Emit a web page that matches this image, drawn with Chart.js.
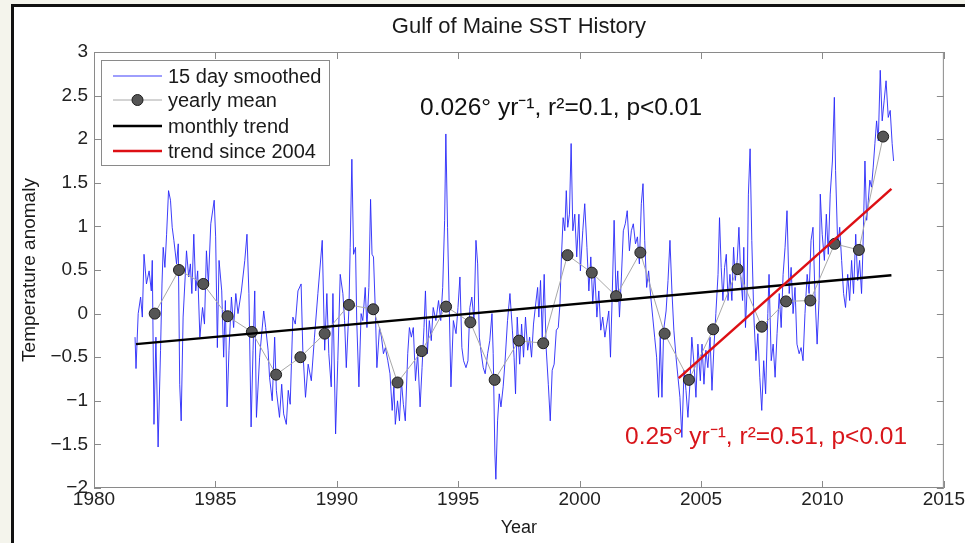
<!DOCTYPE html>
<html>
<head>
<meta charset="utf-8">
<script src="https://cdn.jsdelivr.net/npm/chart.js@4.4.1/dist/chart.umd.min.js"></script>
<style>
html, body { margin: 0; padding: 0; background: #f4f4ec; }
#wrap { width: 965px; height: 543px; position: relative; }
</style>
</head>
<body>
<div id="wrap"><canvas id="sst" width="965" height="543"></canvas></div>
<script>
// 15 day smoothed anomaly as [year, anomaly]
const smoothed = [
  [1981.69,-0.27],[1981.73,-0.63],[1981.82,0.00],[1981.92,0.19],[1981.99,-0.04],[1982.06,0.68],[1982.16,0.34],[1982.27,0.49],
  [1982.36,0.26],[1982.40,0.61],[1982.47,-1.27],[1982.55,-0.27],[1982.64,-1.53],[1982.74,-0.42],[1982.80,0.34],[1982.85,0.76],
  [1982.92,0.53],[1982.99,0.91],[1983.07,1.41],[1983.15,1.30],[1983.22,0.99],[1983.29,0.84],[1983.40,0.57],[1983.47,0.80],
  [1983.53,-0.81],[1983.59,-1.23],[1983.67,-0.04],[1983.81,0.72],[1983.90,0.42],[1983.97,0.57],[1984.03,0.23],[1984.11,0.91],
  [1984.19,0.26],[1984.27,0.49],[1984.36,-0.27],[1984.47,0.07],[1984.55,-0.12],[1984.63,0.72],[1984.71,0.34],[1984.81,1.03],
  [1984.95,1.30],[1985.01,0.88],[1985.08,-0.39],[1985.15,0.61],[1985.26,0.26],[1985.34,-0.50],[1985.41,0.15],[1985.48,-1.07],
  [1985.56,-0.42],[1985.66,0.19],[1985.75,-0.16],[1985.84,0.23],[1985.93,0.00],[1986.07,0.26],[1986.21,0.61],[1986.30,0.91],
  [1986.38,0.23],[1986.47,-1.30],[1986.55,-0.42],[1986.62,0.26],[1986.69,-1.19],[1986.82,-0.50],[1986.99,0.03],[1987.07,-0.16],
  [1987.17,-0.42],[1987.23,-0.73],[1987.34,-1.00],[1987.44,-0.27],[1987.51,-0.88],[1987.64,-1.19],[1987.73,-0.81],[1987.81,-1.15],
  [1987.92,-1.27],[1988.00,-0.88],[1988.08,-1.04],[1988.19,-0.04],[1988.29,-0.12],[1988.40,0.26],[1988.53,0.34],[1988.60,-0.42],
  [1988.71,-0.96],[1988.82,-0.58],[1988.95,-0.77],[1989.08,-0.27],[1989.22,0.23],[1989.40,0.84],
  [1989.50,-0.42],[1989.59,0.23],[1989.67,-0.46],[1989.77,-0.84],[1989.84,0.23],[1989.95,-1.38],[1990.04,-0.54],[1990.14,0.45],
  [1990.25,0.23],[1990.32,-0.08],[1990.39,-0.62],[1990.50,0.07],[1990.55,0.76],[1990.62,1.77],[1990.69,0.68],[1990.77,0.76],
  [1990.82,-0.08],[1990.91,-0.84],[1991.00,0.00],[1991.07,-0.08],[1991.17,0.30],[1991.24,-0.16],[1991.32,0.30],[1991.39,1.31],
  [1991.45,0.68],[1991.51,0.65],[1991.59,0.00],[1991.65,-0.62],[1991.76,-0.16],[1991.84,-0.27],[1991.92,-0.46],[1992.00,-0.39],
  [1992.10,-0.54],[1992.19,-0.69],[1992.28,-1.11],[1992.35,-0.84],[1992.41,-1.27],[1992.50,-1.00],[1992.58,-1.23],[1992.66,-0.77],
  [1992.74,-1.04],[1992.82,-1.23],[1992.92,-0.46],[1992.99,-0.16],[1993.07,-0.27],[1993.15,-0.16],[1993.24,-0.77],[1993.33,-0.46],
  [1993.43,-1.07],[1993.51,-0.62],[1993.59,-0.16],[1993.65,0.26],[1993.73,-0.46],[1993.81,-0.08],[1993.89,-0.31],[1993.97,0.07],
  [1994.08,-0.08],[1994.19,0.15],[1994.28,-0.08],[1994.36,0.30],[1994.44,1.07],[1994.49,2.06],[1994.56,0.99],[1994.63,0.07],
  [1994.70,-0.84],[1994.80,-0.08],[1994.91,-0.23],[1994.99,0.07],[1995.07,0.42],[1995.15,-0.39],[1995.22,-0.54],[1995.32,-0.62],
  [1995.40,-0.54],[1995.48,0.07],[1995.56,0.19],[1995.65,-0.08],[1995.73,0.84],[1995.80,0.57],[1995.87,-0.27],[1995.95,-0.46],
  [1996.03,-0.62],[1996.11,-0.69],[1996.21,-0.46],[1996.30,-0.31],[1996.39,0.00],[1996.44,-0.46],[1996.51,-1.61],[1996.55,-1.90],
  [1996.62,-1.23],[1996.69,-0.92],[1996.76,-1.07],[1996.85,-0.84],[1996.93,-0.54],[1997.03,-0.08],[1997.13,0.23],
  [1997.23,-0.19],[1997.30,-0.50],[1997.36,-0.92],[1997.43,-0.04],[1997.53,-0.58],[1997.61,-0.12],[1997.69,-0.50],[1997.77,-0.04],
  [1997.86,-0.42],[1997.94,-0.27],[1998.02,-0.50],[1998.10,-0.12],[1998.19,0.11],[1998.27,0.30],[1998.32,-0.04],[1998.39,0.38],
  [1998.46,-0.27],[1998.54,0.45],[1998.62,-0.39],[1998.71,-0.81],[1998.79,-1.23],[1998.87,-0.65],[1998.95,-0.58],[1999.04,-0.19],
  [1999.12,-0.16],[1999.19,0.11],[1999.25,0.65],[1999.32,1.10],[1999.39,0.95],[1999.45,1.41],[1999.51,0.99],[1999.58,1.14],
  [1999.65,1.95],[1999.72,0.95],[1999.80,1.14],[1999.88,0.65],[1999.97,1.14],[2000.03,0.49],[2000.13,0.95],[2000.21,1.26],
  [2000.30,0.76],[2000.38,0.26],[2000.46,0.65],[2000.54,0.11],[2000.62,0.49],[2000.71,-0.04],[2000.79,0.26],[2000.87,-0.19],
  [2000.95,-0.04],[2001.04,-0.27],[2001.12,-0.12],[2001.20,0.03],[2001.27,-0.50],[2001.34,0.19],[2001.42,1.07],[2001.50,0.19],
  [2001.57,0.49],[2001.64,-0.04],[2001.72,0.42],[2001.80,0.95],[2001.88,1.03],[2001.96,1.18],[2002.05,0.72],[2002.13,0.95],
  [2002.21,1.03],[2002.30,0.80],[2002.38,0.88],[2002.46,0.57],[2002.54,1.26],[2002.61,1.49],[2002.68,0.84],[2002.76,0.30],
  [2002.84,0.49],[2002.93,0.19],[2003.01,-0.04],[2003.09,-0.27],[2003.17,-0.50],[2003.25,-0.96],[2003.32,-0.27],[2003.39,-0.96],
  [2003.46,-0.19],[2003.56,0.03],[2003.64,0.38],[2003.72,0.84],[2003.80,0.26],[2003.88,-0.19],[2003.97,-0.50],[2004.05,-0.73],
  [2004.13,-0.96],[2004.21,-1.42],[2004.30,-0.65],[2004.38,-0.88],[2004.46,-1.19],[2004.54,-0.81],[2004.62,-0.27],[2004.71,-0.58],
  [2004.79,-0.96],[2004.87,-0.35],
  [2004.97,-0.77],[2005.04,-0.35],[2005.12,-0.81],[2005.20,-0.42],[2005.28,-0.62],[2005.37,-0.27],[2005.45,-0.88],[2005.53,-0.39],
  [2005.61,0.00],[2005.70,0.45],[2005.76,1.10],[2005.83,0.53],[2005.90,0.15],[2005.97,0.53],[2006.04,0.68],[2006.11,0.15],
  [2006.19,0.45],[2006.27,0.15],[2006.34,0.76],[2006.41,0.38],[2006.49,0.61],[2006.56,0.99],[2006.63,0.45],[2006.71,0.15],
  [2006.76,0.76],[2006.83,-0.16],[2006.90,0.30],[2006.95,1.37],[2007.02,1.89],[2007.09,0.84],[2007.17,0.00],[2007.26,-0.54],
  [2007.34,-0.23],[2007.42,-0.73],[2007.50,-1.11],[2007.58,-0.54],[2007.66,-0.92],[2007.75,0.00],[2007.80,0.45],[2007.89,-0.54],
  [2007.97,-0.35],[2008.05,-0.73],[2008.13,-0.23],[2008.22,0.23],[2008.30,-0.16],[2008.38,0.45],[2008.46,0.76],[2008.54,1.18],
  [2008.63,0.23],[2008.71,0.53],[2008.79,0.00],[2008.87,0.30],[2008.95,-0.35],[2009.04,-0.46],[2009.12,-0.39],[2009.20,-0.54],
  [2009.28,0.00],[2009.37,0.45],[2009.45,0.23],[2009.53,0.84],[2009.61,0.99],[2009.69,0.23],[2009.78,-0.35],[2009.86,0.15],
  [2009.91,1.37],[2009.99,0.91],[2010.08,0.61],[2010.16,1.14],[2010.24,0.68],[2010.32,1.37],[2010.41,1.75],[2010.49,2.48],
  [2010.54,1.64],[2010.63,0.76],[2010.71,0.99],[2010.79,0.61],[2010.87,0.23],[2010.95,0.07],[2011.04,0.45],[2011.12,0.15],
  [2011.20,0.61],[2011.28,0.23],[2011.37,0.91],[2011.45,0.38],[2011.53,0.61],[2011.61,0.23],[2011.67,0.76],[2011.75,1.75],
  [2011.82,1.07],[2011.89,1.30],[2011.95,1.53],[2012.02,1.45],[2012.09,1.68],[2012.16,1.95],[2012.23,2.21],[2012.30,1.98],
  [2012.38,2.79],[2012.46,2.21],[2012.54,2.44],[2012.62,2.67],[2012.71,2.25],[2012.79,2.33],[2012.87,1.95],[2012.93,1.75]
];

// yearly means (plotted mid-year)
const meanYears = [1982.5, 1983.5, 1984.5, 1985.5, 1986.5, 1987.5, 1988.5, 1989.5, 1990.5, 1991.5,
  1992.5, 1993.5, 1994.5, 1995.5, 1996.5, 1997.5, 1998.5, 1999.5, 2000.5, 2001.5,
  2002.5, 2003.5, 2004.5, 2005.5, 2006.5, 2007.5, 2008.5, 2009.5, 2010.5, 2011.5, 2012.5];
const meanValues = [0.00, 0.50, 0.34, -0.03, -0.21, -0.70, -0.50, -0.23, 0.10, 0.05,
  -0.79, -0.43, 0.08, -0.10, -0.76, -0.31, -0.34, 0.67, 0.47, 0.20,
  0.70, -0.23, -0.76, -0.18, 0.51, -0.15, 0.14, 0.15, 0.80, 0.73, 2.03];

// trend line end points
const monthlyTrend = [[1981.73, -0.35], [2012.84, 0.44]];
const trendSince2004 = [[2004.08, -0.74], [2012.84, 1.43]];

// axis ticks
const xTicks = [1980, 1985, 1990, 1995, 2000, 2005, 2010, 2015];
const yTicks = [-2, -1.5, -1, -0.5, 0, 0.5, 1, 1.5, 2, 2.5, 3];

const labels = ['15 day smoothed', 'yearly mean', 'monthly trend', 'trend since 2004'];
const fitText = '0.026\u00b0 yr\u207b\u00b9, r\u00b2=0.1, p<0.01';
const fit2004Text = '0.25\u00b0 yr\u207b\u00b9, r\u00b2=0.51, p<0.01';

const FONT = '"Liberation Sans", Arial, Helvetica, sans-serif';
const toXY = p => ({ x: p[0], y: p[1] });
const minus = v => (v < 0 ? '\u2212' : '') + Math.abs(v);

// page frame, title and axis labels
const framePlugin = {
  id: 'frame',
  beforeDraw(chart) {
    const c = chart.ctx;
    c.save();
    c.fillStyle = '#f4f4ec';
    c.fillRect(0, 0, 965, 543);
    c.fillStyle = '#ffffff';
    c.fillRect(12, 5, 953, 538);
    c.fillStyle = '#111';
    c.fillRect(11, 4, 954, 3);
    c.fillRect(11, 4, 3, 539);
    c.restore();
  },
  afterDraw(chart) {
    const c = chart.ctx, a = chart.chartArea;
    const cx = (a.left + a.right) / 2;
    c.save();
    c.fillStyle = '#1a1a1a';
    c.textAlign = 'center';
    c.textBaseline = 'middle';
    c.font = '22px ' + FONT;
    c.fillText('Gulf of Maine SST History', cx, 27);
    c.font = '18px ' + FONT;
    c.fillText('Year', cx, 528);
    c.font = '19px ' + FONT;
    c.translate(30, (a.top + a.bottom) / 2);
    c.rotate(-Math.PI / 2);
    c.fillText('Temperature anomaly', 0, 0);
    c.restore();
  }
};

// matlab style box with inward ticks on all four sides
const boxPlugin = {
  id: 'box',
  beforeDatasetsDraw(chart) {
    const c = chart.ctx, a = chart.chartArea;
    const xs = chart.scales.x, ys = chart.scales.y;
    const t = 7;
    c.save();
    c.strokeStyle = '#8a8a8a';
    c.lineWidth = 1;
    c.strokeRect(a.left + 0.5, a.top + 0.5, a.right - a.left - 1, a.bottom - a.top - 1);
    c.beginPath();
    xTicks.forEach(v => {
      const px = Math.round(xs.getPixelForValue(v)) + 0.5;
      c.moveTo(px, a.bottom); c.lineTo(px, a.bottom - t);
      c.moveTo(px, a.top); c.lineTo(px, a.top + t);
    });
    yTicks.forEach(v => {
      const py = Math.round(ys.getPixelForValue(v)) + 0.5;
      c.moveTo(a.left, py); c.lineTo(a.left + t, py);
      c.moveTo(a.right, py); c.lineTo(a.right - t, py);
    });
    c.stroke();
    c.restore();
  }
};

// legend box and the two fit annotations
const notesPlugin = {
  id: 'notes',
  afterDatasetsDraw(chart) {
    const c = chart.ctx;
    const ds = chart.data.datasets;
    c.save();
    c.fillStyle = '#ffffff';
    c.fillRect(101, 60, 228, 105);
    c.strokeStyle = '#8a8a8a';
    c.lineWidth = 1;
    c.strokeRect(101.5, 60.5, 228, 105);
    const rows = [76, 100, 126, 151];
    c.font = '20px ' + FONT;
    c.textBaseline = 'middle';
    ds.forEach((d, i) => {
      const y = rows[i];
      c.strokeStyle = d.borderColor;
      c.lineWidth = d.borderWidth;
      c.beginPath();
      c.moveTo(113, y); c.lineTo(162, y);
      c.stroke();
      if (d.pointRadius > 0) {
        c.beginPath();
        c.arc(137.5, y, d.pointRadius, 0, Math.PI * 2);
        c.fillStyle = d.pointBackgroundColor;
        c.fill();
        c.strokeStyle = d.pointBorderColor;
        c.lineWidth = d.pointBorderWidth;
        c.stroke();
      }
      c.fillStyle = '#1a1a1a';
      c.fillText(labels[i], 168, y + 1);
    });
    c.font = '24.5px ' + FONT;
    c.fillStyle = '#111';
    c.fillText(fitText, 420, 108);
    c.fillStyle = '#d8161b';
    c.fillText(fit2004Text, 625, 437);
    c.restore();
  }
};

new Chart(document.getElementById('sst'), {
  type: 'line',
  data: {
    datasets: [
      {
        label: labels[0],
        data: smoothed.map(toXY),
        borderColor: 'rgba(40, 40, 250, 0.9)',
        borderWidth: 1,
        pointRadius: 0,
        tension: 0,
        order: 5
      },
      {
        label: labels[1],
        data: meanYears.map((x, i) => ({ x: x, y: meanValues[i] })),
        borderColor: '#a8a8a8',
        borderWidth: 1,
        pointRadius: 5.5,
        pointBackgroundColor: '#555555',
        pointBorderColor: '#1e1e1e',
        pointBorderWidth: 1,
        tension: 0,
        order: 4
      },
      {
        label: labels[2],
        data: monthlyTrend.map(toXY),
        borderColor: '#000000',
        borderWidth: 2.5,
        pointRadius: 0,
        order: 3
      },
      {
        label: labels[3],
        data: trendSince2004.map(toXY),
        borderColor: '#dd0f14',
        borderWidth: 2.5,
        pointRadius: 0,
        order: 2
      }
    ]
  },
  options: {
    responsive: false,
    animation: false,
    events: [],
    layout: { padding: { top: 52, right: 19, left: 0, bottom: 0 } },
    plugins: { legend: { display: false }, title: { display: false }, tooltip: { enabled: false } },
    scales: {
      x: {
        type: 'linear',
        min: 1980,
        max: 2015,
        afterFit: s => { s.height = 55; },
        afterBuildTicks: s => { s.ticks = xTicks.map(v => ({ value: v })); },
        grid: { display: false, drawTicks: false },
        border: { display: false },
        ticks: {
          padding: 0,
          maxRotation: 0,
          autoSkip: false,
          color: '#222',
          font: { family: FONT, size: 19 },
          callback: v => String(v)
        }
      },
      y: {
        type: 'linear',
        min: -2,
        max: 3,
        afterFit: s => { s.width = 94; },
        afterBuildTicks: s => { s.ticks = yTicks.map(v => ({ value: v })); },
        grid: { display: false, drawTicks: false },
        border: { display: false },
        ticks: {
          padding: 6,
          autoSkip: false,
          color: '#222',
          font: { family: FONT, size: 19 },
          callback: v => minus(v)
        }
      }
    }
  },
  plugins: [framePlugin, boxPlugin, notesPlugin]
});
</script>
</body>
</html>
